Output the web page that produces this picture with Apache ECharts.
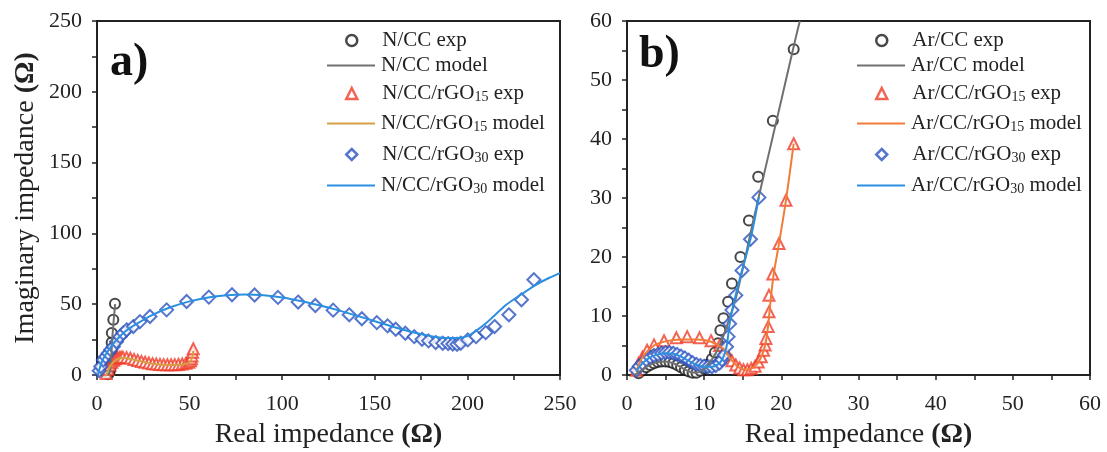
<!DOCTYPE html>
<html>
<head>
<meta charset="utf-8">
<script src="https://cdn.jsdelivr.net/npm/echarts@6/dist/echarts.min.js"></script>
<style>
  html, body { margin: 0; padding: 0; background: #fff; }
  #root { width: 1107px; height: 452px; }
</style>
</head>
<body>
<div id="root"></div>
<script>
// panel a) N/CC samples, [real, imaginary] in ohm
const nccExp = [[6, 0.5], [6.5, 1.5], [7, 3], [7.3, 5], [7.5, 8], [7.7, 12], [7.8, 17], [7.9, 23], [8, 29.7], [8.8, 39], [9.7, 50.3]];
const nccModel = [[5.5, 0], [6.5, 1], [7, 3], [7.5, 8], [7.8, 15], [8.2, 25], [8.8, 35], [9.3, 43], [9.8, 50]];
const ncc15Exp = [[5, 1], [6, 4], [7, 7], [8, 9], [9, 10.5], [10, 11.5], [11, 12], [12, 12.3], [13, 12.5], [14, 12.5], [16, 12.3], [18, 11.8], [20, 11], [22, 10.3], [24, 9.6], [26, 9], [28, 8.5], [30, 8], [32, 7.7], [34, 7.5], [36, 7.3], [38, 7.2], [40, 7.2], [42, 7.3], [44, 7.5], [46, 7.8], [48, 8.3], [49.5, 9], [50.5, 10], [51, 11.5], [51.3, 13.5], [51.6, 16], [52, 18.5]];
const ncc15Model = [[5, 0], [7, 6], [10, 10.5], [14, 12], [20, 10.8], [30, 8], [40, 7], [47, 7.6], [50, 9], [51.3, 12], [52, 17]];
const ncc30Exp = [[1.2, 3], [2, 6], [3.4, 10.6], [4.7, 13], [6.1, 15.4], [7.4, 17.8], [8.8, 20], [10.5, 23.5], [12.4, 27.1], [14.2, 29.6], [16, 31.9], [19.6, 34.2], [23.2, 37.7], [28.6, 41.3], [37.6, 46], [48.4, 51.9], [60.4, 55], [72.9, 56.7], [85.1, 56.5], [97.7, 54.8], [108.6, 51.5], [117.9, 49.1], [127.5, 45.8], [136.2, 42.5], [143, 39.7], [151.1, 37], [156.9, 34.7], [161.3, 32.3], [166.5, 29.5], [171.3, 27.1], [175.5, 25.2], [179, 24.1], [182.9, 22.9], [186.7, 22.4], [189.6, 22.2], [192.1, 21.9], [194.4, 21.7], [196.4, 22.4], [200.2, 24.8], [204.7, 27.1], [209.9, 29.9], [214.7, 34.2], [222.4, 42.5], [229.2, 53.1], [235.9, 67.3]];
const ncc30Model = [[0.5, 0], [2, 7], [4, 13], [7, 19], [10, 24], [15, 30.5], [20, 35], [30, 42.5], [40, 48], [50, 52], [60, 54.8], [70, 56.3], [80, 56.8], [90, 56.3], [100, 54.8], [110, 52.3], [120, 49.2], [130, 45.8], [140, 42], [150, 38], [160, 34], [170, 30.3], [180, 27.5], [188, 26.2], [195, 26.2], [200, 27.5], [205, 31.5], [210, 36.5], [214, 41.3], [221, 49.6], [228, 56], [237, 63.7], [244, 68.5], [250, 72]];

// panel b) Ar/CC samples
const arExp = [[1.5, 0.3], [2, 0.8], [2.5, 1.3], [3, 1.7], [3.5, 2], [4, 2.2], [4.5, 2.3], [5, 2.3], [5.5, 2.2], [6, 2], [6.5, 1.7], [7, 1.3], [7.5, 0.9], [8, 0.6], [8.5, 0.4], [9, 0.4], [9.5, 0.7], [10, 1.1], [10.5, 1.8], [11, 2.7], [11.4, 3.8], [11.8, 5.4], [12.1, 7.6], [12.5, 9.6], [13.1, 12.4], [13.6, 15.5], [14.7, 20], [15.8, 26.2], [17, 33.6], [18.9, 43.1], [21.6, 55.2]];
const arModel = [[1, 0], [2, 0.9], [3, 1.7], [4, 2.2], [5, 2.3], [6, 2], [7, 1.3], [8, 0.6], [9, 0.4], [10, 1], [11, 2.6], [12, 5], [13, 8.5], [14, 12.5], [15, 18], [16, 24], [17, 29.8], [18, 35.4], [19, 41], [20, 46.6], [21, 52.3], [22, 57.9], [22.4, 60]];
const ar15Exp = [[1.2, 0.8], [1.5, 2], [2, 3], [2.6, 4.2], [3.5, 5.1], [4.8, 5.8], [6.4, 6.3], [7.8, 6.5], [9.4, 6.3], [10.9, 5.8], [12, 5], [12.6, 4.2], [13.1, 3.3], [13.6, 2.4], [14.1, 1.7], [14.6, 1.2], [15.1, 0.9], [15.6, 0.9], [16.1, 1.1], [16.6, 1.5], [17, 2.2], [17.4, 3.1], [17.7, 4.2], [17.9, 5.1], [18, 6.2], [18.3, 8.2], [18.4, 10.7], [18.4, 13.5], [18.9, 17.1], [19.7, 22.3], [20.6, 29.6], [21.6, 39.2]];
const ar15Model = [[1.2, 0.5], [2, 3], [3.5, 5], [5, 5.7], [7, 6], [9, 6], [11, 5.6], [12.5, 4.4], [13.5, 2.6], [14.5, 1.3], [15.5, 0.9], [16.5, 1.4], [17.3, 2.8], [17.9, 5], [18.3, 8.5], [18.6, 12.5], [19, 17], [19.7, 22.3], [20.6, 29.6], [21.6, 39.2]];
const ar30Exp = [[1.2, 0.8], [1.6, 1.5], [2, 2], [2.5, 2.6], [3, 3], [3.5, 3.3], [4, 3.5], [4.5, 3.7], [5, 3.8], [5.5, 3.8], [6, 3.7], [6.5, 3.5], [7, 3.2], [7.5, 2.9], [8, 2.5], [8.5, 2.1], [9, 1.8], [9.5, 1.6], [10, 1.5], [10.5, 1.4], [11, 1.4], [11.5, 1.6], [12, 2], [12.3, 2.6], [12.6, 3.4], [12.9, 4.8], [13.1, 6.5], [13.3, 8.7], [13.6, 11], [14.1, 13.5], [14.9, 17.7], [16, 23], [17.1, 30.1]];
const ar30Model = [[1.2, 0.6], [2, 2], [3, 3], [4, 3.5], [5, 3.7], [6, 3.6], [7, 3.1], [8, 2.4], [9, 1.7], [10, 1.4], [11, 1.4], [11.8, 1.8], [12.4, 2.8], [12.9, 4.8], [13.3, 8.7], [13.8, 12], [14.9, 17.7], [16, 23], [17.1, 30.1]];

const namesA = ['N/CC exp', 'N/CC model', 'N/CC/rGO15 exp', 'N/CC/rGO15 model', 'N/CC/rGO30 exp', 'N/CC/rGO30 model'];
const namesB = ['Ar/CC exp', 'Ar/CC model', 'Ar/CC/rGO15 exp', 'Ar/CC/rGO15 model', 'Ar/CC/rGO30 exp', 'Ar/CC/rGO30 model'];

const SERIF = '"Liberation Serif", "Times New Roman", serif';
const C = {
  black: '#1a1a1a', grey: '#707070', red: '#f03c28',
  gold: '#d6a042', orange: '#f07c38', blue: '#2c54c0', sky: '#2a8fe0'
};
const colorsA = [C.black, C.grey, C.red, C.gold, C.blue, C.sky];
const colorsB = [C.black, C.grey, C.red, C.orange, C.blue, C.sky];
const markers = ['circle', 'triangle', 'diamond'];
const markerSizes = [10, 11, 13];

const chart = echarts.init(document.getElementById('root'));

function exp(name, data, k, color, i) {
  return {
    name, type: 'scatter', data, symbol: markers[k], symbolSize: markerSizes[k],
    xAxisIndex: i, yAxisIndex: i,
    itemStyle: { color: '#fff', borderColor: color, borderWidth: 2 }
  };
}
function model(name, data, color, i) {
  return {
    name, type: 'line', data, smooth: 0.3, showSymbol: false, symbol: 'none',
    xAxisIndex: i, yAxisIndex: i,
    lineStyle: { color, width: 2 }, itemStyle: { color }
  };
}

// legend: one component per row so markers sit centred over the line swatches
const legendText = name => {
  const m = name.match(/^(.*rGO)(\d+)(.*)$/);
  if (!m) return '{n|' + name + '}';
  return '{n|' + m[1] + '}{s|' + m[2] + '}{n|' + m[3] + '}';
};
const legendRich = {
  n: { fontFamily: SERIF, fontSize: 21, color: '#222', lineHeight: 22, verticalAlign: 'middle' },
  s: { fontFamily: SERIF, fontSize: 14, color: '#222', lineHeight: 6, verticalAlign: 'bottom' }
};
const rowCenters = [39, 64, 92, 122, 153, 184];
function legendRows(names, colors, lineLeft) {
  return names.map((n, k) => {
    const isMarker = k % 2 === 0;
    const item = isMarker
      ? { name: n, icon: markers[k / 2], itemStyle: { color: '#fff', borderColor: colors[k], borderWidth: 2.5 } }
      : { name: n, icon: 'rect', itemStyle: { color: colors[k], borderWidth: 0 } };
    return {
      orient: 'vertical', selectedMode: false, padding: 0,
      left: isMarker ? lineLeft + 18 : lineLeft,
      top: rowCenters[k] - 9,
      itemWidth: isMarker ? 11 : 48,
      itemHeight: isMarker ? 11 : 2,
      data: [item],
      formatter: legendText,
      textStyle: { rich: legendRich, padding: [0, 0, 0, isMarker ? 20 : 1] }
    };
  });
}

const nameRich = {
  n: { fontFamily: SERIF, fontSize: 28, color: '#222' },
  b: { fontFamily: SERIF, fontSize: 28, color: '#222', fontWeight: 'bold' }
};
const tickLabel = { fontFamily: SERIF, fontSize: 22, color: '#222' };
function axis(max, interval, extra) {
  return Object.assign({
    type: 'value', min: 0, max, interval,
    axisLine: { show: true, lineStyle: { color: '#222', width: 2 } },
    axisTick: { show: true, inside: false, length: 5, lineStyle: { color: '#222', width: 1.5 } },
    minorTick: { show: true, splitNumber: 2, length: 5, lineStyle: { color: '#222', width: 1.5 } },
    splitLine: { show: false },
    axisLabel: Object.assign({ margin: 18 }, tickLabel)
  }, extra || {});
}

chart.setOption({
  animation: false,
  backgroundColor: '#fff',
  grid: [
    { left: 97, right: 547, top: 21, bottom: 77, show: true, borderColor: '#222', borderWidth: 2, containLabel: false, outerBoundsMode: 'none' },
    { left: 627, right: 17, top: 21, bottom: 77, show: true, borderColor: '#222', borderWidth: 2, containLabel: false, outerBoundsMode: 'none' }
  ],
  xAxis: [
    axis(250, 50, { gridIndex: 0, name: '{n|Real impedance }{b|(Ω)}', nameLocation: 'middle', nameGap: 46, nameTextStyle: { rich: nameRich } }),
    axis(60, 10, { gridIndex: 1, name: '{n|Real impedance }{b|(Ω)}', nameLocation: 'middle', nameGap: 46, nameTextStyle: { rich: nameRich } })
  ],
  yAxis: [
    axis(250, 50, { gridIndex: 0, name: '{n|Imaginary impedance }{b|(Ω)}', nameLocation: 'middle', nameGap: 57, nameTextStyle: { rich: nameRich }, axisLabel: Object.assign({ margin: 15 }, tickLabel) }),
    axis(60, 10, { gridIndex: 1, axisLabel: Object.assign({ margin: 15 }, tickLabel) })
  ],
  legend: legendRows(namesA, colorsA, 327).concat(legendRows(namesB, colorsB, 857)),
  graphic: [
    { type: 'text', left: 110, top: 40, style: { text: 'a)', font: 'bold 46px ' + SERIF, fill: '#111' } },
    { type: 'text', left: 639, top: 32, style: { text: 'b)', font: 'bold 46px ' + SERIF, fill: '#111' } }
  ],
  series: [
    exp(namesA[0], nccExp, 0, C.black, 0),
    model(namesA[1], nccModel, C.grey, 0),
    exp(namesA[2], ncc15Exp, 1, C.red, 0),
    model(namesA[3], ncc15Model, C.gold, 0),
    exp(namesA[4], ncc30Exp, 2, C.blue, 0),
    model(namesA[5], ncc30Model, C.sky, 0),
    exp(namesB[0], arExp, 0, C.black, 1),
    model(namesB[1], arModel, C.grey, 1),
    exp(namesB[2], ar15Exp, 1, C.red, 1),
    model(namesB[3], ar15Model, C.orange, 1),
    exp(namesB[4], ar30Exp, 2, C.blue, 1),
    model(namesB[5], ar30Model, C.sky, 1)
  ]
});
</script>
</body>
</html>
